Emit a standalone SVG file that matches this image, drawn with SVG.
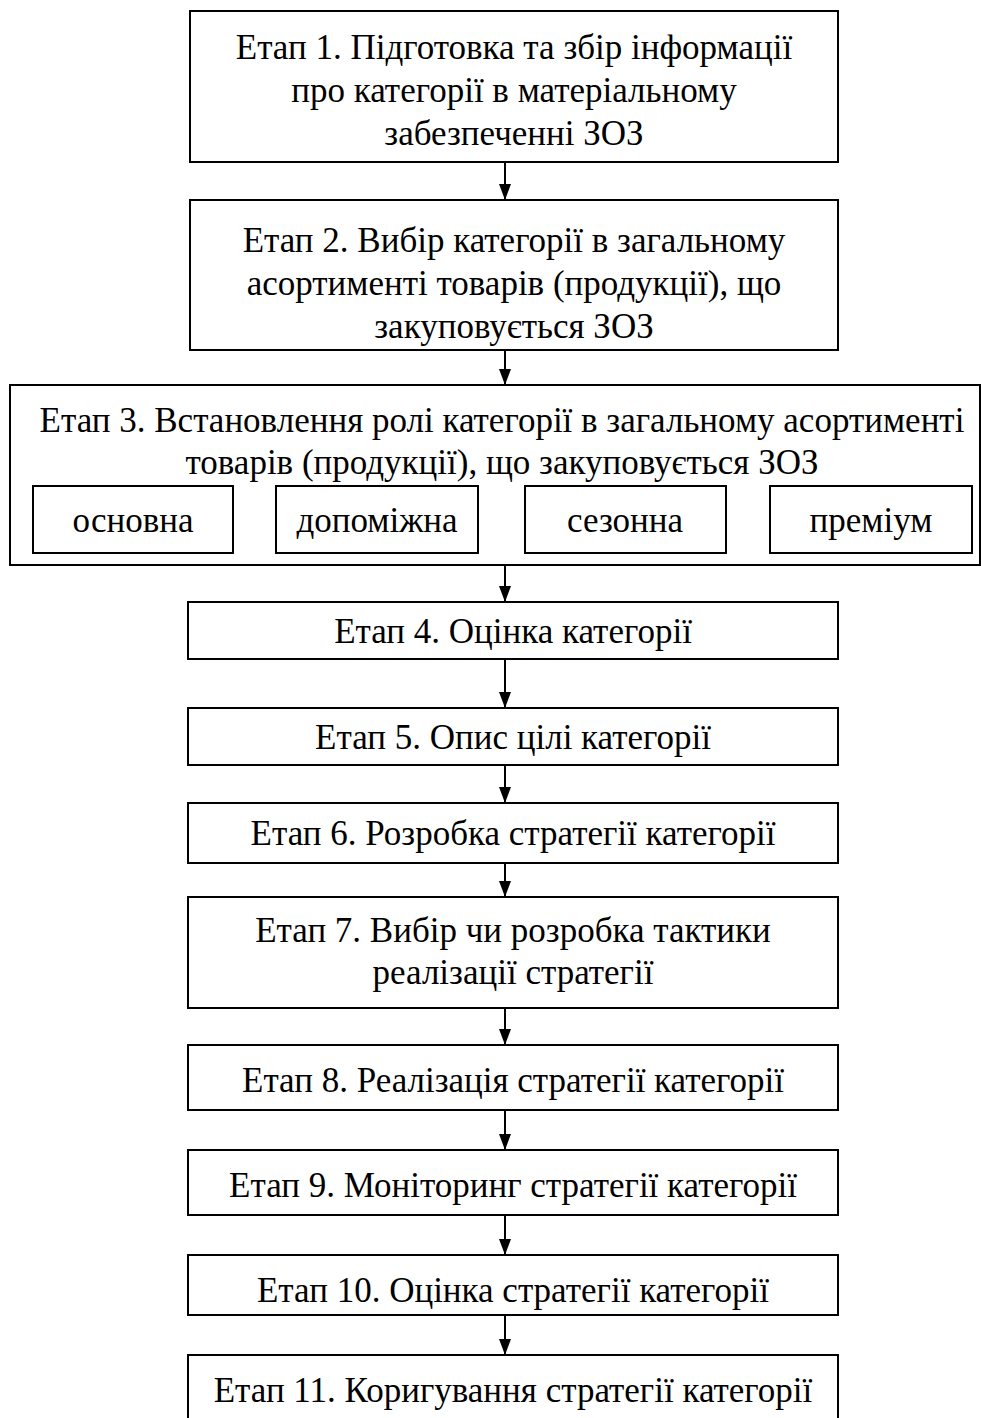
<svg xmlns="http://www.w3.org/2000/svg" width="981" height="1418" viewBox="0 0 981 1418">
<style>
.box{fill:#fff;stroke:#000;stroke-width:2}
.t{font-family:"Liberation Serif","Times New Roman",serif;font-size:35px;fill:#000;text-anchor:middle}
.c{stroke:#000;stroke-width:2;fill:none}
</style>
<defs>
<marker id="ah" markerWidth="16" markerHeight="12" refX="16" refY="6" orient="auto" markerUnits="userSpaceOnUse" viewBox="0 0 16 12">
<path d="M0,0 L16,6 L0,12 z" fill="#000"/>
</marker>
</defs>
<rect x="0" y="0" width="981" height="1418" fill="#fff"/>
<g id="n1"><rect class="box" x="190" y="11" width="648" height="151"/>
<text class="t" x="514" y="59">Етап 1. Підготовка та збір інформації</text>
<text class="t" x="514" y="102">про категорії в матеріальному</text>
<text class="t" x="514" y="145">забезпеченні ЗОЗ</text></g>
<g id="n2"><rect class="box" x="190" y="200" width="648" height="150"/>
<text class="t" x="514" y="252">Етап 2. Вибір категорії в загальному</text>
<text class="t" x="514" y="295">асортименті товарів (продукції), що</text>
<text class="t" x="514" y="338">закуповується ЗОЗ</text></g>
<g id="n3"><rect class="box" x="10" y="385" width="970" height="180"/>
<text class="t" x="502" y="432">Етап 3. Встановлення ролі категорії в загальному асортименті</text>
<text class="t" x="502" y="474">товарів (продукції), що закуповується ЗОЗ</text>
<g id="n3a"><rect class="box" x="33" y="486" width="200" height="67"/><text class="t" x="133" y="532">основна</text></g>
<g id="n3b"><rect class="box" x="276" y="486" width="202" height="67"/><text class="t" x="377" y="532">допоміжна</text></g>
<g id="n3c"><rect class="box" x="525" y="486" width="201" height="67"/><text class="t" x="625" y="532">сезонна</text></g>
<g id="n3d"><rect class="box" x="770" y="486" width="202" height="67"/><text class="t" x="871" y="532">преміум</text></g>
</g>
<g id="n4"><rect class="box" x="188" y="602" width="650" height="57"/><text class="t" x="513" y="643">Етап 4. Оцінка категорії</text></g>
<g id="n5"><rect class="box" x="188" y="708" width="650" height="57"/><text class="t" x="513" y="749">Етап 5. Опис цілі категорії</text></g>
<g id="n6"><rect class="box" x="188" y="803" width="650" height="60"/><text class="t" x="513" y="845">Етап 6. Розробка стратегії категорії</text></g>
<g id="n7"><rect class="box" x="188" y="897" width="650" height="111"/>
<text class="t" x="513" y="942">Етап 7. Вибір чи розробка тактики</text>
<text class="t" x="513" y="984">реалізації стратегії</text></g>
<g id="n8"><rect class="box" x="188" y="1045" width="650" height="65"/><text class="t" x="513" y="1092">Етап 8. Реалізація стратегії категорії</text></g>
<g id="n9"><rect class="box" x="188" y="1150" width="650" height="65"/><text class="t" x="513" y="1197">Етап 9. Моніторинг стратегії категорії</text></g>
<g id="n10"><rect class="box" x="188" y="1255" width="650" height="60"/><text class="t" x="513" y="1302">Етап 10. Оцінка стратегії категорії</text></g>
<g id="n11"><rect class="box" x="188" y="1355" width="650" height="70"/><text class="t" x="513" y="1402">Етап 11. Коригування стратегії категорії</text></g>
<g id="connectors">
<line class="c" x1="505" y1="162" x2="505" y2="200" marker-end="url(#ah)"/>
<line class="c" x1="505" y1="350" x2="505" y2="385" marker-end="url(#ah)"/>
<line class="c" x1="505" y1="565" x2="505" y2="602" marker-end="url(#ah)"/>
<line class="c" x1="505" y1="659" x2="505" y2="708" marker-end="url(#ah)"/>
<line class="c" x1="505" y1="765" x2="505" y2="803" marker-end="url(#ah)"/>
<line class="c" x1="505" y1="863" x2="505" y2="897" marker-end="url(#ah)"/>
<line class="c" x1="505" y1="1008" x2="505" y2="1045" marker-end="url(#ah)"/>
<line class="c" x1="505" y1="1110" x2="505" y2="1150" marker-end="url(#ah)"/>
<line class="c" x1="505" y1="1215" x2="505" y2="1255" marker-end="url(#ah)"/>
<line class="c" x1="505" y1="1315" x2="505" y2="1355" marker-end="url(#ah)"/>
</g>
</svg>
